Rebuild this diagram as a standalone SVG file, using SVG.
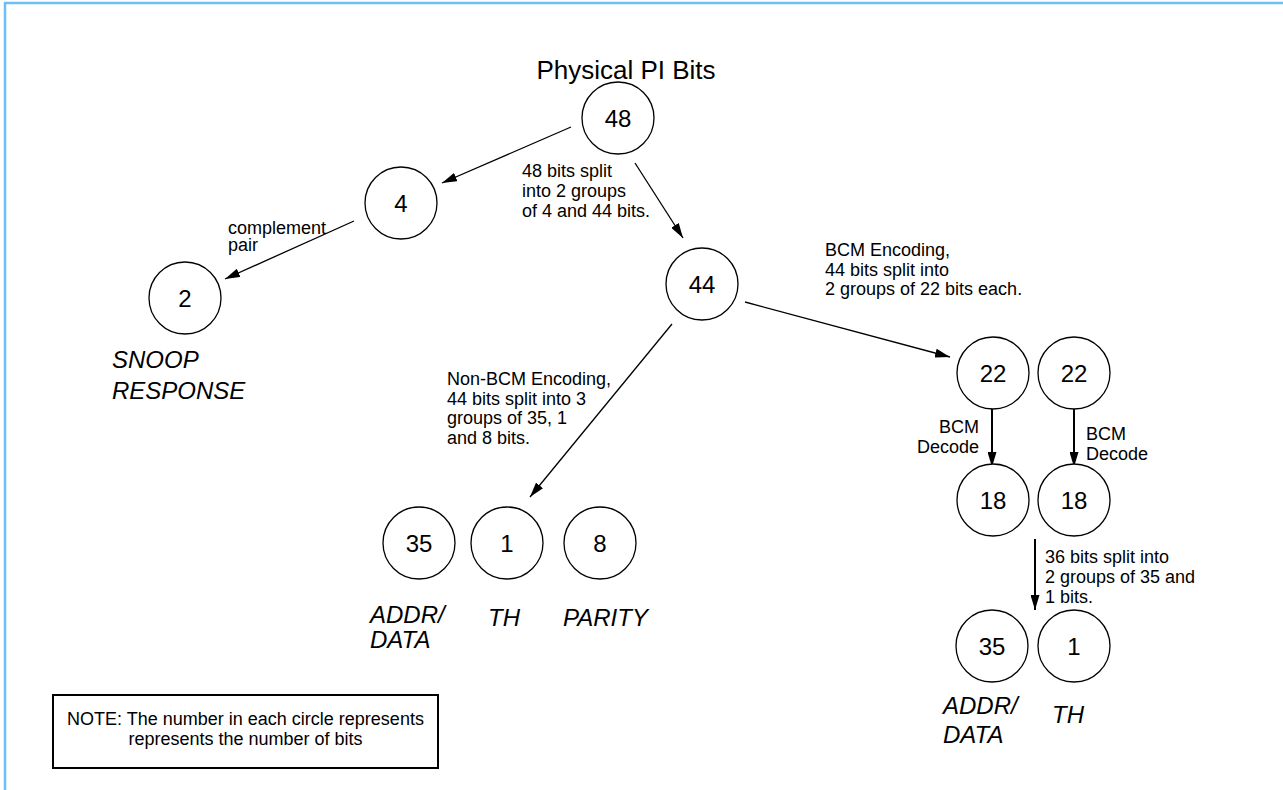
<svg xmlns="http://www.w3.org/2000/svg" width="1283" height="790" viewBox="0 0 1283 790">
  <defs>
    <marker id="ah" viewBox="0 0 15 9" refX="15" refY="4.5" markerWidth="15" markerHeight="9" markerUnits="userSpaceOnUse" orient="auto">
      <path d="M0,0 L15,4.5 L0,9 z" fill="#000"/>
    </marker>
    <style>
      .node circle { fill: #fff; stroke: #000; stroke-width: 1.3; }
      .num { font-family: "Liberation Sans", Arial, sans-serif; font-size: 24px; text-anchor: middle; fill: #000; }
      .cap { font-family: "Liberation Sans", Arial, sans-serif; font-size: 18px; fill: #000; }
      .tag { font-family: "Liberation Sans", Arial, sans-serif; font-size: 24px; font-style: italic; fill: #000; }
      .title { font-family: "Liberation Sans", Arial, sans-serif; font-size: 26px; text-anchor: middle; fill: #000; }
      .edge { stroke: #000; stroke-width: 1.3; fill: none; marker-end: url(#ah); }
      .edge.bold { stroke-width: 2; }
      .frame { stroke: #6cbef7; stroke-width: 2.5; fill: none; }
    </style>
  </defs>

  <rect width="1283" height="790" fill="#fff"/>
  <!-- page frame (top and left rules) -->
  <path class="frame" d="M5,790 L5,3 L1283,3"/>

  <text class="title" x="626" y="79">Physical PI Bits</text>

  <!-- connectors -->
  <g id="connectors">
    <path class="edge" d="M571,127 L442,183"/>
    <path class="edge" d="M635,163 L683,238"/>
    <path class="edge" d="M354,221 L225,279"/>
    <path class="edge" d="M745,302 L950,357"/>
    <path class="edge" d="M672,324 L530,497"/>
    <path class="edge bold" d="M992,408 L992,467"/>
    <path class="edge bold" d="M1074,409 L1074,467"/>
    <path class="edge bold" d="M1035,539 L1035,610"/>
  </g>

  <!-- connector captions -->
  <g id="captions">
    <text class="cap" x="522" y="177">48 bits split</text>
    <text class="cap" x="522" y="197">into 2 groups</text>
    <text class="cap" x="522" y="217">of 4 and 44 bits.</text>

    <text class="cap" x="228" y="234">complement</text>
    <text class="cap" x="228" y="251">pair</text>

    <text class="cap" x="825" y="256">BCM Encoding,</text>
    <text class="cap" x="825" y="276">44 bits split into</text>
    <text class="cap" x="825" y="295">2 groups of 22 bits each.</text>

    <text class="cap" x="447" y="385">Non-BCM Encoding,</text>
    <text class="cap" x="447" y="404.5">44 bits split into 3</text>
    <text class="cap" x="447" y="424">groups of 35, 1</text>
    <text class="cap" x="447" y="443.5">and 8 bits.</text>

    <text class="cap" x="979" y="433" text-anchor="end">BCM</text>
    <text class="cap" x="979" y="453" text-anchor="end">Decode</text>

    <text class="cap" x="1086" y="440">BCM</text>
    <text class="cap" x="1086" y="460">Decode</text>

    <text class="cap" x="1045" y="563">36 bits split into</text>
    <text class="cap" x="1045" y="583">2 groups of 35 and</text>
    <text class="cap" x="1045" y="603">1 bits.</text>
  </g>

  <!-- nodes -->
  <g id="n48" class="node"><circle cx="618" cy="118" r="36"/><text class="num" x="618" y="126.5">48</text></g>
  <g id="n4" class="node"><circle cx="401" cy="203" r="36"/><text class="num" x="401" y="211.5">4</text></g>
  <g id="n2" class="node"><circle cx="185" cy="298" r="36"/><text class="num" x="185" y="306.5">2</text></g>
  <g id="n44" class="node"><circle cx="702" cy="284" r="36"/><text class="num" x="702" y="292.5">44</text></g>

  <g id="n35a" class="node"><circle cx="419" cy="543" r="36"/><text class="num" x="419" y="551.5">35</text></g>
  <g id="n1a" class="node"><circle cx="507" cy="543" r="36"/><text class="num" x="507" y="551.5">1</text></g>
  <g id="n8" class="node"><circle cx="600" cy="543" r="36"/><text class="num" x="600" y="551.5">8</text></g>

  <g id="n22a" class="node"><circle cx="993" cy="373" r="36"/><text class="num" x="993" y="381.5">22</text></g>
  <g id="n22b" class="node"><circle cx="1074" cy="373" r="36"/><text class="num" x="1074" y="381.5">22</text></g>
  <g id="n18a" class="node"><circle cx="993" cy="500" r="36"/><text class="num" x="993" y="508.5">18</text></g>
  <g id="n18b" class="node"><circle cx="1074" cy="500" r="36"/><text class="num" x="1074" y="508.5">18</text></g>

  <g id="n35b" class="node"><circle cx="992" cy="646" r="36"/><text class="num" x="992" y="654.5">35</text></g>
  <g id="n1b" class="node"><circle cx="1074" cy="646" r="36"/><text class="num" x="1074" y="654.5">1</text></g>

  <!-- field names -->
  <g id="labels">
    <text class="tag" x="112" y="368">SNOOP</text>
    <text class="tag" x="112" y="399">RESPONSE</text>

    <text class="tag" x="370" y="623">ADDR/</text>
    <text class="tag" x="370" y="648">DATA</text>
    <text class="tag" x="488" y="626">TH</text>
    <text class="tag" x="563" y="626">PARITY</text>

    <text class="tag" x="943" y="714">ADDR/</text>
    <text class="tag" x="943" y="743">DATA</text>
    <text class="tag" x="1052" y="723">TH</text>
  </g>

  <!-- legend -->
  <g id="note">
    <rect x="53" y="695" width="385" height="73" fill="#fff" stroke="#000" stroke-width="2"/>
    <text class="cap" x="245.5" y="725" text-anchor="middle">NOTE: The number in each circle represents</text>
    <text class="cap" x="245.5" y="745" text-anchor="middle">represents the number of bits</text>
  </g>
</svg>
